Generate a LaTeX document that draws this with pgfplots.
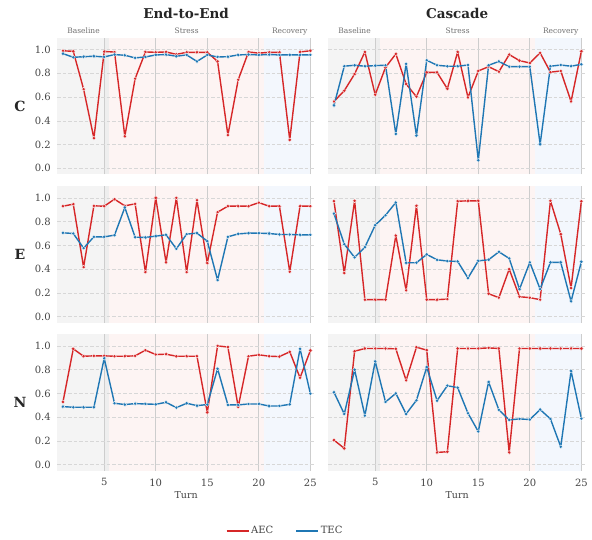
\documentclass[border=0pt]{standalone}
\usepackage{fontspec}
\setmainfont{DejaVu Serif}
\usepackage{pgfplots}
\usepackage{pgfplotstable}
\pgfplotsset{compat=1.18}
\definecolor{aec}{HTML}{D62728}
\definecolor{tec}{HTML}{1F77B4}
\definecolor{bgbase}{RGB}{244,244,244}
\definecolor{bgband}{RGB}{238,238,238}
\definecolor{bgstress}{RGB}{253,244,243}
\definecolor{bgrec}{RGB}{243,247,253}
\definecolor{gridc}{RGB}{222,222,222}
\definecolor{vgridc}{RGB}{205,205,205}
\definecolor{tickc}{RGB}{68,68,68}
\definecolor{phasec}{RGB}{110,110,110}

\pgfplotstableread{
t aec tec
1 0.990 0.966
2 0.985 0.935
3 0.667 0.940
4 0.254 0.944
5 0.983 0.938
6 0.980 0.958
7 0.270 0.952
8 0.755 0.930
9 0.980 0.938
10 0.977 0.955
11 0.980 0.958
12 0.960 0.944
13 0.977 0.955
14 0.977 0.900
15 0.977 0.955
16 0.900 0.938
17 0.280 0.940
18 0.746 0.955
19 0.980 0.958
20 0.970 0.955
21 0.977 0.958
22 0.977 0.955
23 0.240 0.955
24 0.980 0.955
25 0.990 0.955
}\CE
\pgfplotstableread{
t aec tec
1 0.563 0.530
2 0.654 0.860
3 0.794 0.868
4 0.980 0.860
5 0.620 0.865
6 0.850 0.868
7 0.963 0.290
8 0.710 0.880
9 0.603 0.276
10 0.808 0.910
11 0.808 0.868
12 0.670 0.860
13 0.980 0.860
14 0.597 0.870
15 0.820 0.068
16 0.856 0.868
17 0.814 0.900
18 0.958 0.856
19 0.907 0.856
20 0.887 0.856
21 0.972 0.203
22 0.810 0.860
23 0.820 0.870
24 0.563 0.860
25 0.986 0.876
}\CC
\pgfplotstableread{
t aec tec
1 0.930 0.706
2 0.947 0.700
3 0.417 0.577
4 0.933 0.672
5 0.930 0.672
6 0.989 0.686
7 0.933 0.919
8 0.950 0.669
9 0.375 0.667
10 1.000 0.678
11 0.457 0.689
12 1.000 0.571
13 0.375 0.695
14 0.980 0.703
15 0.451 0.636
16 0.880 0.308
17 0.930 0.672
18 0.930 0.697
19 0.930 0.703
20 0.960 0.703
21 0.930 0.700
22 0.930 0.692
23 0.378 0.692
24 0.930 0.689
25 0.930 0.689
}\EE
\pgfplotstableread{
t aec tec
1 0.972 0.868
2 0.367 0.610
3 0.975 0.499
4 0.143 0.585
5 0.143 0.770
6 0.143 0.854
7 0.683 0.961
8 0.221 0.454
9 0.933 0.454
10 0.143 0.524
11 0.143 0.479
12 0.148 0.468
13 0.972 0.465
14 0.975 0.325
15 0.975 0.470
16 0.193 0.479
17 0.160 0.546
18 0.400 0.490
19 0.168 0.232
20 0.160 0.457
21 0.143 0.232
22 0.975 0.457
23 0.695 0.457
24 0.241 0.129
25 0.972 0.462
}\EC
\pgfplotstableread{
t aec tec
1 0.528 0.489
2 0.975 0.483
3 0.913 0.483
4 0.916 0.483
5 0.916 0.895
6 0.913 0.517
7 0.913 0.506
8 0.916 0.514
9 0.964 0.511
10 0.927 0.508
11 0.930 0.525
12 0.913 0.480
13 0.913 0.517
14 0.913 0.497
15 0.440 0.506
16 1.000 0.807
17 0.990 0.503
18 0.486 0.503
19 0.913 0.511
20 0.925 0.511
21 0.913 0.494
22 0.910 0.494
23 0.950 0.508
24 0.732 0.975
25 0.961 0.598
}\NE
\pgfplotstableread{
t aec tec
1 0.207 0.609
2 0.137 0.427
3 0.955 0.799
4 0.978 0.413
5 0.978 0.869
6 0.978 0.528
7 0.975 0.600
8 0.710 0.427
9 0.989 0.542
10 0.964 0.821
11 0.103 0.539
12 0.109 0.665
13 0.978 0.648
14 0.978 0.433
15 0.978 0.279
16 0.983 0.696
17 0.978 0.461
18 0.103 0.377
19 0.978 0.385
20 0.978 0.380
21 0.978 0.464
22 0.978 0.385
23 0.978 0.151
24 0.978 0.788
25 0.978 0.388
}\NC

\pgfplotsset{
  panel/.style={
    set layers, clip=false,
    scale only axis, width=257.7pt, height=136.6pt,
    anchor=north west,
    xmin=0.45, xmax=25.45, ymin=-0.05, ymax=1.1,
    axis line style={draw=none},
    major tick length=0pt,
    xtick={5,10,15,20,25},
    ytick={0,0.2,0.4,0.6,0.8,1.0},
    xmajorgrids, ymajorgrids,
    x grid style={solid, vgridc, line width=0.8pt},
    y grid style={vgridc!80!white, line width=0.6pt, dash pattern=on 3.5pt off 2pt},
    tick label style={font=\fontsize{10}{12}\selectfont, text=tickc},
    y tick label style={xshift=-3pt, /pgf/number format/.cd, fixed, fixed zerofill, precision=1, assume math mode=true},
    x tick label style={yshift=-4.5pt, /pgf/number format/assume math mode=true},
  },
  noxlab/.style={xticklabels={}},
  noylab/.style={yticklabels={}},
  aecl/.style={aec, line width=1.4pt, line join=round, mark=*, mark size=1.9pt, mark options={solid, fill=aec, draw=white, line width=0.3pt}},
  tecl/.style={tec, line width=1.4pt, line join=round, mark=*, mark size=1.9pt, mark options={solid, fill=tec, draw=white, line width=0.3pt}},
}
\newcommand{\bands}{%
  \addplot[on layer=axis background, draw=none, fill=bgbase, forget plot] coordinates {(0.45,-0.05) (5.5,-0.05) (5.5,1.1) (0.45,1.1)} -- cycle;
  \addplot[on layer=axis background, draw=none, fill=bgband, forget plot] coordinates {(5.0,-0.05) (5.5,-0.05) (5.5,1.1) (5.0,1.1)} -- cycle;
  \addplot[on layer=axis background, draw=none, fill=bgstress, forget plot] coordinates {(5.5,-0.05) (20.5,-0.05) (20.5,1.1) (5.5,1.1)} -- cycle;
  \addplot[on layer=axis background, draw=none, fill=bgrec, forget plot] coordinates {(20.5,-0.05) (25,-0.05) (25,1.1) (20.5,1.1)} -- cycle;
}
\newcommand{\phases}{%
  \node[font=\fontsize{7.5}{9}\selectfont, text=phasec, anchor=base, yshift=3.9pt] at (axis cs:3,1.1) {Baseline};
  \node[font=\fontsize{7.5}{9}\selectfont, text=phasec, anchor=base, yshift=3.9pt] at (axis cs:13,1.1) {Stress};
  \node[font=\fontsize{7.5}{9}\selectfont, text=phasec, anchor=base, yshift=3.9pt] at (axis cs:23,1.1) {Recovery};
}
\newcommand{\rowlab}[1]{%
  \node[font=\fontsize{14}{16}\selectfont\bfseries, text=black!85, anchor=center, xshift=-37.3pt] at (rel axis cs:0,0.5) {#1};
}

\begin{document}
\begin{tikzpicture}
\path (0,0) rectangle (592pt,-540pt);
% Row C
\begin{axis}[panel, noxlab, at={(57.3pt,-37.7pt)}]
\bands
\addplot[aecl] table[x=t,y=aec]{\CE};
\addplot[tecl] table[x=t,y=tec]{\CE};
\phases
\rowlab{C}
\node[font=\fontsize{13.5}{16}\selectfont\bfseries, text=black!85, anchor=base, yshift=18.7pt] at (rel axis cs:0.5,1) {End-to-End};
\end{axis}
\begin{axis}[panel, noxlab, noylab, at={(328.3pt,-37.7pt)}]
\bands
\addplot[aecl] table[x=t,y=aec]{\CC};
\addplot[tecl] table[x=t,y=tec]{\CC};
\phases
\node[font=\fontsize{13.5}{16}\selectfont\bfseries, text=black!85, anchor=base, yshift=18.7pt] at (rel axis cs:0.5,1) {Cascade};
\end{axis}
% Row E
\begin{axis}[panel, noxlab, at={(57.3pt,-186pt)}]
\bands
\addplot[aecl] table[x=t,y=aec]{\EE};
\addplot[tecl] table[x=t,y=tec]{\EE};
\rowlab{E}
\end{axis}
\begin{axis}[panel, noxlab, noylab, at={(328.3pt,-186pt)}]
\bands
\addplot[aecl] table[x=t,y=aec]{\EC};
\addplot[tecl] table[x=t,y=tec]{\EC};
\end{axis}
% Row N
\begin{axis}[panel, at={(57.3pt,-334pt)},
  xlabel={Turn}, xlabel style={font=\fontsize{9.5}{11}\selectfont, text=tickc, yshift=1.5pt},
  legend style={at={(0.884,-0.442)}, anchor=center, draw=none, fill=none,
    legend columns=2, font=\fontsize{10}{12}\selectfont, text=tickc,
    /tikz/every even column/.append style={column sep=20pt}},
  legend image code/.code={\draw[#1, mark=none, line width=1.4pt] (0pt,0pt) -- (22pt,0pt);},
  ]
\bands
\addplot[aecl] table[x=t,y=aec]{\NE};
\addplot[tecl] table[x=t,y=tec]{\NE};
\rowlab{N}
\legend{AEC,TEC}
\end{axis}
\begin{axis}[panel, noylab, at={(328.3pt,-334pt)},
  xlabel={Turn}, xlabel style={font=\fontsize{9.5}{11}\selectfont, text=tickc, yshift=1.5pt}]
\bands
\addplot[aecl] table[x=t,y=aec]{\NC};
\addplot[tecl] table[x=t,y=tec]{\NC};
\end{axis}
\end{tikzpicture}
\end{document}
